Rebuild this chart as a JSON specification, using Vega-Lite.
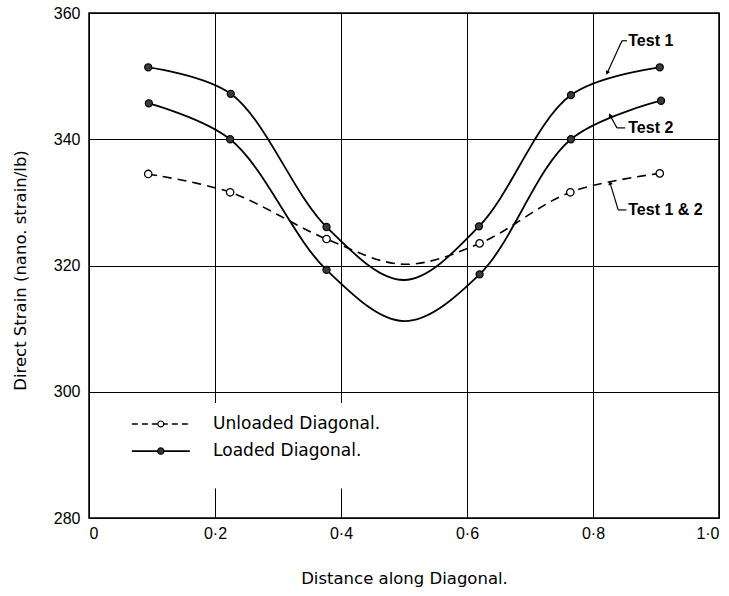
{
  "$schema": "https://vega.github.io/schema/vega-lite/v6.json",
  "width": 630,
  "height": 505,
  "autosize": {"type": "none"},
  "padding": {"left": 89, "top": 13, "right": 10, "bottom": 78},
  "background": "white",
  "config": {
    "view": {"stroke": "#000", "strokeWidth": 1.5},
    "axis": {
      "grid": true,
      "gridColor": "#000",
      "gridOpacity": 1,
      "gridWidth": 1,
      "domain": false,
      "ticks": false,
      "labelFont": "Liberation Sans",
      "labelFontSize": 16,
      "labelColor": "#000",
      "titleFont": "DejaVu Sans",
      "titleFontSize": 16.5,
      "titleFontWeight": "normal",
      "titleColor": "#000"
    }
  },
  "datasets": {
    "strain": [
      {"series": "Test 1", "x": 0.094, "y": 351.4, "marker": true},
      {"series": "Test 1", "x": 0.225, "y": 347.2, "marker": true},
      {"series": "Test 1", "x": 0.377, "y": 326.1, "marker": true},
      {"series": "Test 1", "x": 0.5, "y": 317.7, "marker": false},
      {"series": "Test 1", "x": 0.619, "y": 326.2, "marker": true},
      {"series": "Test 1", "x": 0.765, "y": 347.0, "marker": true},
      {"series": "Test 1", "x": 0.906, "y": 351.4, "marker": true},
      {"series": "Test 2", "x": 0.095, "y": 345.7, "marker": true},
      {"series": "Test 2", "x": 0.224, "y": 340.0, "marker": true},
      {"series": "Test 2", "x": 0.377, "y": 319.3, "marker": true},
      {"series": "Test 2", "x": 0.5, "y": 311.2, "marker": false},
      {"series": "Test 2", "x": 0.62, "y": 318.6, "marker": true},
      {"series": "Test 2", "x": 0.765, "y": 340.0, "marker": true},
      {"series": "Test 2", "x": 0.908, "y": 346.1, "marker": true},
      {"series": "Unloaded", "x": 0.094, "y": 334.5, "marker": true},
      {"series": "Unloaded", "x": 0.224, "y": 331.6, "marker": true},
      {"series": "Unloaded", "x": 0.377, "y": 324.2, "marker": true},
      {"series": "Unloaded", "x": 0.5, "y": 320.2, "marker": false},
      {"series": "Unloaded", "x": 0.62, "y": 323.5, "marker": true},
      {"series": "Unloaded", "x": 0.764, "y": 331.6, "marker": true},
      {"series": "Unloaded", "x": 0.906, "y": 334.6, "marker": true}
    ],
    "legend": [
      {"kind": "Unloaded", "label": "Unloaded Diagonal.", "x": 0.068, "x2": 0.16, "xm": 0.114, "tx": 0.197, "y": 294.9},
      {"kind": "Loaded", "label": "Loaded Diagonal.", "x": 0.068, "x2": 0.16, "xm": 0.114, "tx": 0.197, "y": 290.6}
    ],
    "leaders": [
      {"x": 0.8225, "y": 350.5, "x2": 0.846, "y2": 355.6},
      {"x": 0.846, "y": 355.6, "x2": 0.854, "y2": 355.6},
      {"x": 0.827, "y": 343.8, "x2": 0.838, "y2": 341.8},
      {"x": 0.838, "y": 341.8, "x2": 0.851, "y2": 341.8},
      {"x": 0.827, "y": 333.1, "x2": 0.84, "y2": 328.8},
      {"x": 0.84, "y": 328.8, "x2": 0.853, "y2": 328.8}
    ],
    "notes": [
      {"label": "Test 1", "x": 0.856, "y": 355.6, "tipx": 0.8225, "tipy": 350.5},
      {"label": "Test 2", "x": 0.856, "y": 341.8, "tipx": 0.827, "tipy": 343.8},
      {"label": "Test 1 & 2", "x": 0.856, "y": 328.8, "tipx": 0.827, "tipy": 333.1}
    ]
  },
  "encoding": {
    "x": {
      "type": "quantitative",
      "scale": {"domain": [0, 1], "nice": false, "zero": false},
      "axis": {
        "title": "Distance along Diagonal.",
        "values": [0, 0.2, 0.4, 0.6, 0.8, 1.0],
        "labelExpr": "datum.value == 0 ? '0' : replace(format(datum.value, '.1f'), '.', '·')",
        "labelPadding": 7,
        "titleY": 60,
        "titleBaseline": "middle"
      }
    },
    "y": {
      "type": "quantitative",
      "scale": {"domain": [280, 360], "nice": false, "zero": false},
      "axis": {
        "title": "Direct Strain (nano. strain/lb)",
        "values": [280, 300, 320, 340, 360],
        "labelPadding": 9,
        "titleX": -69,
        "titleY": 257,
        "titleBaseline": "middle"
      }
    }
  },
  "layer": [
    {
      "data": {"name": "legend"},
      "mark": {"type": "rect", "fill": "white", "stroke": null},
      "encoding": {
        "x": {"datum": 0.004, "type": "quantitative"},
        "x2": {"datum": 0.47},
        "y": {"datum": 284.7, "type": "quantitative"},
        "y2": {"datum": 298.2}
      }
    },
    {
      "data": {"name": "strain"},
      "transform": [{"filter": "datum.series != 'Unloaded'"}],
      "mark": {"type": "line", "interpolate": "catmull-rom", "color": "#000", "strokeWidth": 1.8},
      "encoding": {
        "x": {"field": "x"},
        "y": {"field": "y"},
        "detail": {"field": "series"}
      }
    },
    {
      "data": {"name": "strain"},
      "transform": [{"filter": "datum.series == 'Unloaded'"}],
      "mark": {"type": "line", "interpolate": "catmull-rom", "color": "#000", "strokeWidth": 1.6, "strokeDash": [9, 6]},
      "encoding": {
        "x": {"field": "x"},
        "y": {"field": "y"}
      }
    },
    {
      "data": {"name": "strain"},
      "transform": [{"filter": "datum.marker && datum.series != 'Unloaded'"}],
      "mark": {"type": "point", "shape": "circle", "filled": true, "fill": "#3a3a3a", "stroke": "#000", "strokeWidth": 1.2, "size": 50, "opacity": 1},
      "encoding": {
        "x": {"field": "x"},
        "y": {"field": "y"}
      }
    },
    {
      "data": {"name": "strain"},
      "transform": [{"filter": "datum.marker && datum.series == 'Unloaded'"}],
      "mark": {"type": "point", "shape": "circle", "filled": true, "fill": "white", "stroke": "#000", "strokeWidth": 1.3, "size": 55, "opacity": 1},
      "encoding": {
        "x": {"field": "x"},
        "y": {"field": "y"}
      }
    },
    {
      "data": {"name": "legend"},
      "transform": [{"filter": "datum.kind == 'Unloaded'"}],
      "mark": {"type": "rule", "color": "#000", "strokeWidth": 1.5, "strokeDash": [6, 4]},
      "encoding": {
        "x": {"field": "x"},
        "x2": {"field": "x2"},
        "y": {"field": "y"}
      }
    },
    {
      "data": {"name": "legend"},
      "transform": [{"filter": "datum.kind == 'Loaded'"}],
      "mark": {"type": "rule", "color": "#000", "strokeWidth": 1.8},
      "encoding": {
        "x": {"field": "x"},
        "x2": {"field": "x2"},
        "y": {"field": "y"}
      }
    },
    {
      "data": {"name": "legend"},
      "transform": [{"filter": "datum.kind == 'Unloaded'"}],
      "mark": {"type": "point", "shape": "circle", "filled": true, "fill": "white", "stroke": "#000", "strokeWidth": 1.2, "size": 35, "opacity": 1},
      "encoding": {
        "x": {"field": "xm"},
        "y": {"field": "y"}
      }
    },
    {
      "data": {"name": "legend"},
      "transform": [{"filter": "datum.kind == 'Loaded'"}],
      "mark": {"type": "point", "shape": "circle", "filled": true, "fill": "#3a3a3a", "stroke": "#000", "strokeWidth": 1.2, "size": 40, "opacity": 1},
      "encoding": {
        "x": {"field": "xm"},
        "y": {"field": "y"}
      }
    },
    {
      "data": {"name": "legend"},
      "mark": {"type": "text", "align": "left", "baseline": "middle", "font": "DejaVu Sans", "fontSize": 17, "color": "#000"},
      "encoding": {
        "x": {"field": "tx"},
        "y": {"field": "y"},
        "text": {"field": "label"}
      }
    },
    {
      "data": {"name": "leaders"},
      "mark": {"type": "rule", "color": "#000", "strokeWidth": 1.2},
      "encoding": {
        "x": {"field": "x"},
        "y": {"field": "y"},
        "x2": {"field": "x2"},
        "y2": {"field": "y2"}
      }
    },
    {
      "data": {"name": "notes"},
      "transform": [{"filter": "datum.label == 'Test 1'"}],
      "mark": {"type": "point", "shape": "triangle-up", "filled": true, "color": "#000", "size": 22, "angle": 204, "opacity": 1},
      "encoding": {"x": {"field": "tipx"}, "y": {"field": "tipy"}}
    },
    {
      "data": {"name": "notes"},
      "transform": [{"filter": "datum.label == 'Test 2'"}],
      "mark": {"type": "point", "shape": "triangle-up", "filled": true, "color": "#000", "size": 22, "angle": 332, "opacity": 1},
      "encoding": {"x": {"field": "tipx"}, "y": {"field": "tipy"}}
    },
    {
      "data": {"name": "notes"},
      "transform": [{"filter": "datum.label == 'Test 1 & 2'"}],
      "mark": {"type": "point", "shape": "triangle-up", "filled": true, "color": "#000", "size": 22, "angle": 342, "opacity": 1},
      "encoding": {"x": {"field": "tipx"}, "y": {"field": "tipy"}}
    },
    {
      "data": {"name": "notes"},
      "mark": {"type": "text", "align": "left", "baseline": "middle", "font": "Liberation Sans", "fontSize": 16, "fontWeight": "bold", "color": "#000"},
      "encoding": {
        "x": {"field": "x"},
        "y": {"field": "y"},
        "text": {"field": "label"}
      }
    }
  ]
}
